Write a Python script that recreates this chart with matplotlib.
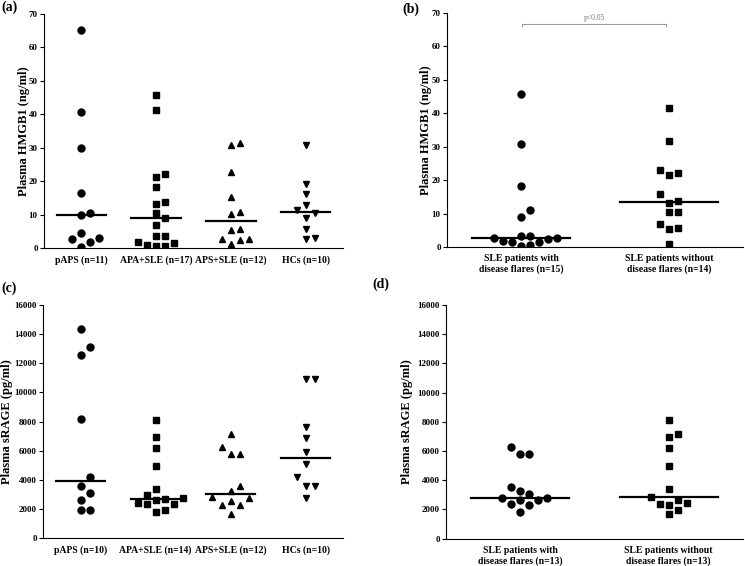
import matplotlib
matplotlib.use("Agg")
import matplotlib.pyplot as plt
import numpy as np

plt.rcParams['font.family'] = ['Liberation Serif', 'DejaVu Serif']
plt.rcParams['font.weight'] = 'bold'

# (a) plasma HMGB1 (ng/ml)
groups_a = ['pAPS (n=11)', 'APA+SLE (n=17)', 'APS+SLE (n=12)', 'HCs (n=10)']
hmgb1_papS = [65.2, 40.6, 30.0, 16.5, 9.9, 10.6, 4.4, 2.7, 1.9, 2.9, 0.4]
hmgb1_apa_sle = [45.8, 41.3, 22.1, 21.3, 18.2, 13.7, 13.2, 10.4, 9.1, 6.9,
                 3.6, 3.6, 1.7, 0.9, 0.6, 0.6, 1.6]
hmgb1_aps_sle = [31.3, 30.8, 22.6, 15.4, 10.2, 10.9, 5.7, 5.4, 2.6, 1.3, 2.5, 2.6]
hmgb1_hcs = [30.9, 19.0, 16.2, 13.0, 11.4, 10.4, 9.0, 5.6, 2.6, 3.1]

# (b) plasma HMGB1, SLE with / without flares
groups_b = ['SLE patients with\ndisease flares (n=15)',
            'SLE patients without\ndisease flares (n=14)']
hmgb1_flare = [45.8, 30.9, 18.2, 11.1, 9.0, 2.6, 1.8, 1.6, 3.4, 3.4, 0.4, 0.6, 1.6, 2.4, 2.8]
hmgb1_noflare = [41.6, 31.7, 22.9, 21.4, 22.2, 15.8, 13.9, 13.3, 10.4, 10.4, 5.8, 5.5, 6.9, 1.0]

# (c) plasma sRAGE (pg/ml)
groups_c = ['pAPS (n=10)', 'APA+SLE (n=14)', 'APS+SLE (n=12)', 'HCs (n=10)']
srage_paps = [14377, 13097, 12594, 8206, 4183, 3611, 3109, 2651, 1966, 1966]
srage_apa_sle = [8114, 6926, 6194, 4937, 3360, 2970, 2675, 2627, 2743, 2442,
                 2352, 2352, 1825, 1941]
srage_aps_sle = [7154, 5783, 5783, 6240, 3587, 3244, 2853, 2579, 2743, 2284, 2284, 1667]
srage_hcs = [10949, 10949, 7657, 6880, 5897, 5074, 4183, 3566, 3566, 2766]

# (d) plasma sRAGE, SLE with / without flares
groups_d = ['SLE patients with\ndisease flares (n=13)',
            'SLE patients without\ndisease flares (n=13)']
srage_flare = [6300, 5780, 5780, 3560, 3266, 3040, 2766, 2623, 2623, 2766, 2397, 2280, 1822]
srage_noflare = [8136, 7154, 6949, 6216, 4961, 3383, 2876, 2650, 2420, 2280, 2355, 1937, 1663]

fig = plt.figure(figsize=(7.45, 5.66), dpi=100)


def swarm_offsets(vals, py_unit, step_px=9.0, thr_px=9.0):
    # simple beeswarm: place points bottom-up, shift sideways on collision
    vals = np.asarray(vals, dtype=float)
    slots = np.zeros(len(vals))
    placed = []
    for i in np.argsort(vals, kind='stable'):
        y = vals[i] * py_unit
        for k in [0, 1, -1, 2, -2, 3, -3, 4, -4]:
            if all(abs(y - py) >= thr_px for s, py in placed if s == k):
                break
        placed.append((k, y))
        slots[i] = k
    return slots * step_px


def panel(rect, groups, data, markers, ymax, ystep, ylabel, lab_x, letter, letter_xy):
    ax = fig.add_axes(rect)
    ax.set_xlim(0.5, len(groups) + 0.5)
    ax.set_ylim(0, ymax)
    w_px = rect[2] * 745
    h_px = rect[3] * 566
    px_x = w_px / len(groups)
    py_unit = h_px / ymax
    for i, (vals, m) in enumerate(zip(data, markers)):
        xs = i + 1 + swarm_offsets(vals, py_unit) / px_x
        ms = 4.6 if m == 's' else 5.0
        ax.plot(xs, vals, linestyle='none', marker=m, color='black', markersize=ms)
        med = np.median(vals)
        ax.plot([i + 1 - 0.33, i + 1 + 0.33], [med, med], color='black', lw=1.6)
    ax.spines['top'].set_visible(False)
    ax.spines['right'].set_visible(False)
    ax.spines['left'].set_linewidth(0.8)
    ax.spines['bottom'].set_linewidth(0.8)
    ax.set_yticks(np.arange(0, ymax + 1, ystep))
    ax.set_xticks(range(1, len(groups) + 1))
    ax.set_xticklabels(groups, fontsize=7, fontweight='bold', linespacing=1.2)
    ax.tick_params(axis='x', length=0, pad=5)
    ax.tick_params(axis='y', length=3, width=0.8, labelsize=6.5, pad=1.5)
    for t in ax.get_yticklabels():
        t.set_fontweight('bold')
    ax.set_ylabel(ylabel, fontsize=9, fontweight='bold')
    ax.yaxis.set_label_coords(lab_x, 0.5)
    fig.text(letter_xy[0] / 745, 1 - letter_xy[1] / 566, letter, fontsize=10,
             fontweight='bold', ha='left', va='top')
    return ax


ax_a = panel([44 / 745, 318 / 566, 299 / 745, 234 / 566], groups_a,
             [hmgb1_papS, hmgb1_apa_sle, hmgb1_aps_sle, hmgb1_hcs],
             ['o', 's', '^', 'v'], 70, 10, 'Plasma HMGB1 (ng/ml)', -0.047, '(a)', (1, 1))

ax_b = panel([447 / 745, 319 / 566, 296 / 745, 234 / 566], groups_b,
             [hmgb1_flare, hmgb1_noflare],
             ['o', 's'], 70, 10, 'Plasma HMGB1 (ng/ml)', -0.051, '(b)', (402, 3))

# significance bracket in (b)
ax_b.plot([1.01, 1.01, 1.98, 1.98], [66.1, 66.8, 66.8, 66.1], color='#9a9a9a', lw=0.8)
ax_b.text(1.495, 67.4, 'p<0.05', fontsize=5.5, fontweight='normal', color='#777777',
          ha='center', va='bottom')

ax_c = panel([43 / 745, 27.7 / 566, 300 / 745, 233.3 / 566], groups_c,
             [srage_paps, srage_apa_sle, srage_aps_sle, srage_hcs],
             ['o', 's', '^', 'v'], 16000, 2000, 'Plasma sRAGE (pg/ml)', -0.1, '(c)', (1, 282))

ax_d = panel([446 / 745, 27.3 / 566, 297 / 745, 233.7 / 566], groups_d,
             [srage_flare, srage_noflare],
             ['o', 's'], 16000, 2000, 'Plasma sRAGE (pg/ml)', -0.111, '(d)', (372, 278))

fig.savefig('out.png', dpi=100)
